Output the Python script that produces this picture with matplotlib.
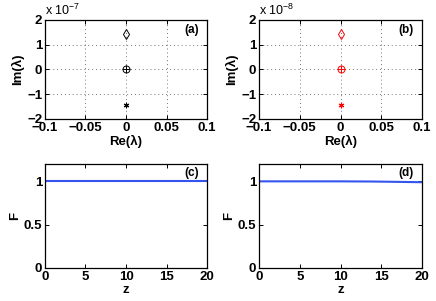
import matplotlib
matplotlib.use("Agg")
import matplotlib.pyplot as plt

plt.rcParams['font.family'] = ['Liberation Sans', 'DejaVu Sans']
plt.rcParams['font.weight'] = 'bold'
plt.rcParams['font.size'] = 9
plt.rcParams['mathtext.default'] = 'regular'

# eigenvalues (Re, Im) for panels a and b
re_a = [0.0, 0.0, 0.0]
im_a = [1.42e-7, 0.0, -1.42e-7]
re_b = [0.0, 0.0, 0.0]
im_b = [1.42e-8, 0.0, -1.42e-8]
markers = ['d', 'o', 'asterisk']
re_ticks = [-0.1, -0.05, 0, 0.05, 0.1]
re_ticklabels = ['\u22120.1', '\u22120.05', '0', '0.05', '0.1']
im_ticklabels = ['\u22122', '\u22121', '0', '1', '2']

# fidelity vs z
z_c = [0, 5, 10, 15, 20]
F_c = [1.0, 1.0, 1.0, 1.0, 1.0]
z_d = [0, 5, 10, 14, 17, 20]
F_d = [1.0, 1.0, 1.0, 0.998, 0.994, 0.99]
z_ticks = [0, 5, 10, 15, 20]
F_ticks = [0, 0.5, 1]
F_ticklabels = ['0', '0.5', '1']

fig = plt.figure(figsize=(4.36, 3.01), dpi=100)
ax_a = fig.add_axes([0.103, 0.605, 0.372, 0.329])
ax_b = fig.add_axes([0.594, 0.605, 0.374, 0.329])
ax_c = fig.add_axes([0.103, 0.110, 0.372, 0.345])
ax_d = fig.add_axes([0.594, 0.110, 0.374, 0.345])

bold = dict(fontweight='bold', fontsize=9.5)


def style(ax):
    ax.tick_params(direction='in', top=True, right=True, length=3, width=0.7, pad=2)
    for s in ax.spines.values():
        s.set_linewidth(0.9)


def eig_panel(ax, re, im, color, exp, label):
    for x, y, m in zip(re, im, markers):
        if m == 'd':
            ax.plot(x, y, 'd', mfc='none', mec=color, ms=5.5, mew=0.7)
        elif m == 'o':
            ax.plot(x, y, 'o', mfc='none', mec=color, ms=5, mew=0.7)
            ax.plot(x, y, '+', color=color, ms=5.5, mew=0.7)
        else:
            ax.plot(x, y, marker=(6, 2, 0), color=color, ms=4, mew=0.8, ls='none')
    scale = 10.0 ** exp
    ax.set_xlim(-0.1, 0.1)
    ax.set_ylim(-2 * scale, 2 * scale)
    ax.set_xticks(re_ticks)
    ax.set_xticklabels(re_ticklabels, **bold)
    ax.set_yticks([-2 * scale, -scale, 0, scale, 2 * scale])
    ax.set_yticklabels(im_ticklabels, **bold)
    ax.grid(True, ls=(0, (1, 3)), color='0.45', lw=0.7)
    ax.set_xlabel('Re(\u03bb)', labelpad=1, **bold)
    ax.set_ylabel('Im(\u03bb)', labelpad=2, **bold)
    ax.text(0.0, 1.02, 'x 10$^{%d}$' % exp, transform=ax.transAxes,
            ha='left', va='bottom', fontweight='normal', fontsize=9)
    ax.text(0.95, 0.9, label, transform=ax.transAxes, ha='right', va='center',
            fontweight='bold', fontsize=8.5)
    style(ax)


def fid_panel(ax, z, F, label):
    ax.plot(z, F, color='#3355ee', lw=1.5)
    ax.set_xlim(0, 20)
    ax.set_ylim(0, 1.2)
    ax.set_xticks(z_ticks)
    ax.set_xticklabels([str(v) for v in z_ticks], **bold)
    ax.set_yticks(F_ticks)
    ax.set_yticklabels(F_ticklabels, **bold)
    ax.set_xlabel('z', labelpad=1, **bold)
    ax.set_ylabel('F', labelpad=2, **bold)
    ax.text(0.95, 0.915, label, transform=ax.transAxes, ha='right', va='center',
            fontweight='bold', fontsize=8.5)
    style(ax)


eig_panel(ax_a, re_a, im_a, 'black', -7, '(a)')
eig_panel(ax_b, re_b, im_b, 'red', -8, '(b)')
fid_panel(ax_c, z_c, F_c, '(c)')
fid_panel(ax_d, z_d, F_d, '(d)')

fig.savefig('out.png', dpi=100)
